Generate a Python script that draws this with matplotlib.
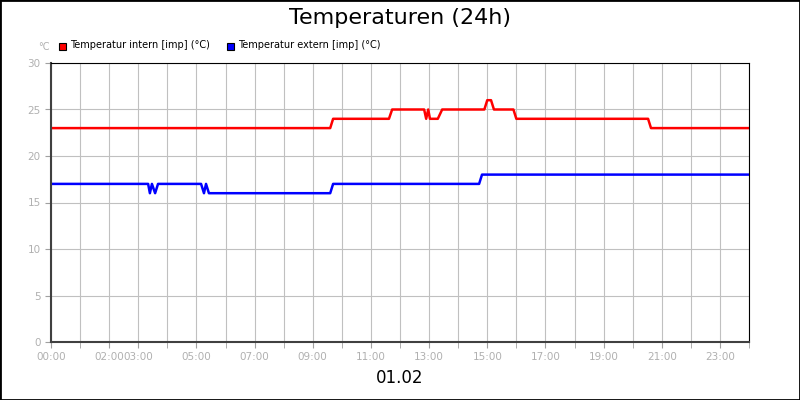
import matplotlib.pyplot as plt
from matplotlib.patches import Rectangle

# breakpoints (hour, °C)
intern_h = [0, 9.6, 9.7, 11.62, 11.73, 12.83, 12.9, 12.97, 13.03, 13.3, 13.45, 14.9, 15.0, 15.13, 15.23, 15.9, 16.0, 20.53, 20.63, 24]
intern_v = [23, 23, 24, 24, 25, 25, 24, 25, 24, 24, 25, 25, 26, 26, 25, 25, 24, 24, 23, 23]
extern_h = [0, 3.34, 3.4, 3.47, 3.58, 3.68, 5.16, 5.26, 5.33, 5.43, 9.6, 9.7, 14.72, 14.82, 24]
extern_v = [17, 17, 16, 17, 16, 17, 17, 16, 17, 16, 16, 17, 17, 18, 18]
tick_hours = [0, 2, 3, 5, 7, 9, 11, 13, 15, 17, 19, 21, 23]
tick_labels = ["%02d:00" % h for h in tick_hours]

fig = plt.figure(figsize=(8, 4), dpi=100)
fig.patches.append(Rectangle((0, 0), 1, 1, transform=fig.transFigure, fill=False,
                             edgecolor='black', linewidth=2))
ax = fig.add_axes([51 / 800, 58 / 400, 698 / 800, 279 / 400])

ax.plot(intern_h, intern_v, color='#ff0000', linewidth=1.8)
ax.plot(extern_h, extern_v, color='#0000ff', linewidth=1.8)

ax.set_xlim(0, 24)
ax.set_ylim(0, 30)
ax.set_xticks(tick_hours)
ax.set_xticklabels(tick_labels)
ax.set_xticks(range(25), minor=True)
ax.set_yticks(range(0, 31, 5))
ax.grid(True, which='both', color='#c0c0c0', linewidth=0.8)
ax.tick_params(which='both', colors='#a0a0a0', labelsize=7.5, length=4)
ax.tick_params(labelcolor='#b0b0b0')
for s in ['top', 'right']:
    ax.spines[s].set_color('black')
for s in ['left', 'bottom']:
    ax.spines[s].set_color('#404040')
    ax.spines[s].set_linewidth(1.5)

fig.text(0.5, 0.955, "Temperaturen (24h)", ha='center', va='center', fontsize=16)
fig.text(0.5, 0.055, "01.02", ha='center', va='center', fontsize=12)
fig.text(38 / 800, 1 - 47 / 400, "°C", ha='left', va='center', fontsize=7, color='#b0b0b0')

fig.patches.append(Rectangle((59 / 800, 1 - 50 / 400), 7 / 800, 7 / 400, transform=fig.transFigure,
                             facecolor='#ff0000', edgecolor='black', linewidth=0.8))
fig.text(70 / 800, 1 - 45 / 400, "Temperatur intern [imp] (°C)", va='center', fontsize=7)
fig.patches.append(Rectangle((227 / 800, 1 - 50 / 400), 7 / 800, 7 / 400, transform=fig.transFigure,
                             facecolor='#0000ff', edgecolor='black', linewidth=0.8))
fig.text(238 / 800, 1 - 45 / 400, "Temperatur extern [imp] (°C)", va='center', fontsize=7)

fig.savefig("out.png")
